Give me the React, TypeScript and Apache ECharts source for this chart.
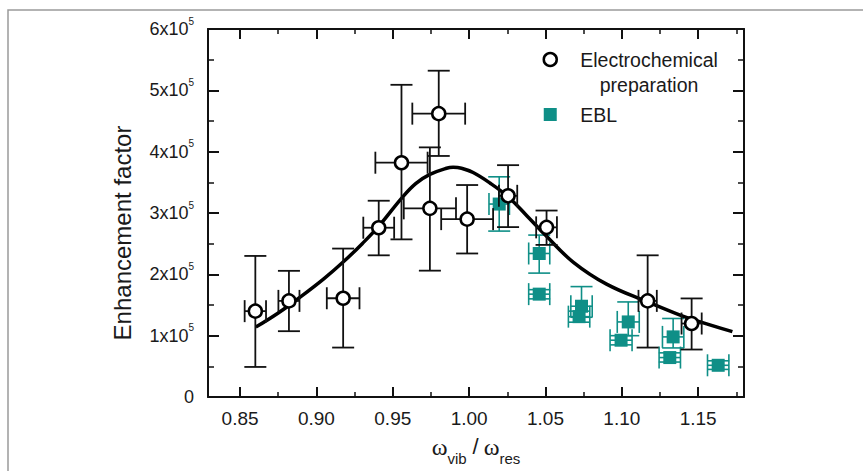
import React, { useEffect, useRef } from 'react';
import * as echarts from 'echarts';

// ---- Data ----
// Electrochemical preparation: x, y, symmetric x error, y low, y high
const circX = [0.860, 0.882, 0.9175, 0.9408, 0.9557, 0.9801, 0.9743, 0.9987, 1.0255, 1.0507, 1.1169, 1.1457];
const circY = [1.40e5, 1.567e5, 1.61e5, 2.76e5, 3.82e5, 4.62e5, 3.076e5, 2.90e5, 3.28e5, 2.766e5, 1.567e5, 1.198e5];
const circXErr = [0.007, 0.0069, 0.0107, 0.0101, 0.0171, 0.0173, 0.0171, 0.017, 0.006, 0.0068, 0.006, 0.0066];
const circYLo = [0.49e5, 1.073e5, 0.806e5, 2.31e5, 2.57e5, 3.93e5, 2.06e5, 2.34e5, 2.77e5, 2.48e5, 0.806e5, 0.774e5];
const circYHi = [2.30e5, 2.057e5, 2.42e5, 3.20e5, 5.09e5, 5.32e5, 4.07e5, 3.456e5, 3.78e5, 3.04e5, 2.31e5, 1.607e5];

// EBL
const eblX = [1.0197, 1.0459, 1.0459, 1.0736, 1.072, 1.1042, 1.0995, 1.1336, 1.1314, 1.1631];
const eblY = [3.146e5, 2.34e5, 1.677e5, 1.48e5, 1.31e5, 1.224e5, 0.926e5, 0.98e5, 0.643e5, 0.517e5];
const eblXErr = [0.0067, 0.0069, 0.0069, 0.007, 0.007, 0.0072, 0.0072, 0.007, 0.007, 0.007];
const eblYLo = [2.705e5, 2.02e5, 1.60e5, 1.30e5, 1.22e5, 1.00e5, 0.85e5, 0.80e5, 0.57e5, 0.45e5];
const eblYHi = [3.59e5, 2.64e5, 1.75e5, 1.80e5, 1.40e5, 1.55e5, 1.00e5, 1.28e5, 0.72e5, 0.59e5];

// Fit curve
const fitX = [0.8603, 0.875, 0.890, 0.905, 0.9175, 0.930, 0.941, 0.9557, 0.965, 0.9743, 0.9852, 0.9895, 0.995, 1.0026, 1.0136, 1.0255, 1.0376, 1.0507, 1.0681, 1.090, 1.1169, 1.1336, 1.1457, 1.1724];
const fitY = [1.14e5, 1.37e5, 1.64e5, 1.93e5, 2.20e5, 2.50e5, 2.79e5, 3.24e5, 3.48e5, 3.63e5, 3.73e5, 3.745e5, 3.73e5, 3.66e5, 3.49e5, 3.265e5, 2.96e5, 2.62e5, 2.20e5, 1.84e5, 1.55e5, 1.38e5, 1.27e5, 1.065e5];

const xMin = 0.829;
const xMax = 1.18;
const yMin = 0;
const yMax = 6e5;
const yStep = 1e5;

const SERIES_EC = 'Electrochemical preparation';
const SERIES_EBL = 'EBL';

const TEAL = '#0f8f87';
const INK = '#111111';
const TXT = '#1a1a1a';
const SANS = '"Liberation Sans", Arial, Helvetica, sans-serif';
const SERIF = '"Liberation Serif", "DejaVu Serif", serif';

function errorRenderer(color: string, lw: number, cap: number) {
  return (params: any, api: any) => {
    const x = api.value(0);
    const y = api.value(1);
    const xl = api.value(2);
    const xh = api.value(3);
    const yl = api.value(4);
    const yh = api.value(5);
    const pLo = api.coord([x, yl]);
    const pHi = api.coord([x, yh]);
    const pL = api.coord([xl, y]);
    const pR = api.coord([xh, y]);
    const style = { stroke: color, lineWidth: lw };
    const mk = (x1: number, y1: number, x2: number, y2: number) => ({
      type: 'line', shape: { x1, y1, x2, y2 }, style,
    });
    return {
      type: 'group',
      children: [
        mk(pLo[0], pLo[1], pHi[0], pHi[1]),
        mk(pLo[0] - cap, pLo[1], pLo[0] + cap, pLo[1]),
        mk(pHi[0] - cap, pHi[1], pHi[0] + cap, pHi[1]),
        mk(pL[0], pL[1], pR[0], pR[1]),
        mk(pL[0], pL[1] - cap, pL[0], pL[1] + cap),
        mk(pR[0], pR[1] - cap, pR[0], pR[1] + cap),
      ],
    };
  };
}

function xLabel(v: number) {
  const k = Math.round(v / 0.05);
  if (Math.abs(k * 0.05 - v) > 1e-6) return '';
  return v.toFixed(2);
}

function yLabel(v: number) {
  if (v === 0) return '{z|0}';
  return `{m|${Math.round(v / 1e5)}x10}{s|5}`;
}

export default function App() {
  const ref = useRef<HTMLDivElement>(null);
  useEffect(() => {
    if (!ref.current) return;
    const chart = echarts.init(ref.current, null, { renderer: 'svg' });

    const circData = circX.map((x, i) => [x, circY[i], x - circXErr[i], x + circXErr[i], circYLo[i], circYHi[i]]);
    const eblData = eblX.map((x, i) => [x, eblY[i], x - eblXErr[i], x + eblXErr[i], eblYLo[i], eblYHi[i]]);
    const fitData = fitX.map((x, i) => [x, fitY[i]]);

    const axisLine = { show: true, onZero: false, lineStyle: { color: INK, width: 2 } };

    const xCommon = {
      type: 'value',
      min: xMin,
      max: xMax,
      splitNumber: 7,
      minInterval: 0.05,
      maxInterval: 0.05,
      axisLine,
      splitLine: { show: false },
      axisTick: { show: true, inside: true, length: 10, lineStyle: { color: INK, width: 2 } },
      minorTick: { show: true, splitNumber: 2, length: 5, lineStyle: { color: INK, width: 1.5 } },
    };
    const yCommon = {
      type: 'value',
      min: yMin,
      max: yMax,
      interval: yStep,
      axisLine,
      splitLine: { show: false },
      axisTick: { show: true, inside: true, length: 11, lineStyle: { color: INK, width: 2 } },
      minorTick: { show: true, splitNumber: 2, length: 6, lineStyle: { color: INK, width: 1.5 } },
    };

    const option: any = {
      animation: false,
      backgroundColor: '#ffffff',
      graphic: [
        {
          type: 'rect',
          silent: true,
          z: -10,
          shape: { x: 8, y: 10, width: 900, height: 520 },
          style: { fill: 'none', stroke: '#9a9a9a', lineWidth: 1.5 },
        },
      ],
      grid: { left: 208, right: 119, top: 29, bottom: 74, containLabel: false, outerBoundsMode: 'none' },
      legend: {
        orient: 'vertical',
        left: 542.5,
        top: 49.5,
        padding: 0,
        itemGap: 10,
        itemWidth: 13,
        itemHeight: 13,
        selectedMode: false,
        data: [
          {
            name: SERIES_EC,
            icon: 'circle',
            itemStyle: { color: '#ffffff', borderColor: '#000000', borderWidth: 2.5 },
            textStyle: { padding: [25, 0, 0, 18.5] },
          },
          {
            name: SERIES_EBL,
            icon: 'rect',
            itemStyle: { color: TEAL },
            textStyle: { padding: [0, 0, 0, 18.5] },
          },
        ],
        formatter: (name: string) =>
          name === SERIES_EBL ? '{a|EBL}' : '{a|Electrochemical}\n{b|preparation}',
        textStyle: {
          fontFamily: SANS,
          fontSize: 19.5,
          color: TXT,
          rich: {
            a: { fontFamily: SANS, fontSize: 19.5, color: TXT, lineHeight: 25 },
            b: { fontFamily: SANS, fontSize: 19.5, color: TXT, lineHeight: 25, align: 'center' },
          },
        },
      },
      xAxis: [
        {
          ...xCommon,
          position: 'bottom',
          axisLabel: {
            show: true,
            margin: 11.5,
            fontFamily: SANS,
            fontSize: 19,
            color: TXT,
            showMinLabel: false,
            showMaxLabel: false,
            formatter: xLabel,
          },
          name: '{w|ω}{s|vib}{sl|/}{w|ω}{s|res}',
          nameLocation: 'middle',
          nameGap: 38,
          nameTextStyle: {
            rich: {
              w: { fontFamily: SERIF, fontSize: 24, color: TXT, verticalAlign: 'top' },
              s: { fontFamily: SANS, fontSize: 15, color: TXT, verticalAlign: 'top', padding: [16, 0, 0, 0] },
              sl: { fontFamily: SANS, fontSize: 22, color: TXT, verticalAlign: 'top', padding: [0, 5, 0, 6] },
            },
          },
        },
        {
          ...xCommon,
          position: 'top',
          axisLabel: { show: false },
        },
      ],
      yAxis: [
        {
          ...yCommon,
          position: 'left',
          axisLabel: {
            show: true,
            margin: 14,
            formatter: yLabel,
            rich: {
              z: { fontFamily: SANS, fontSize: 18, color: TXT },
              m: { fontFamily: SANS, fontSize: 18, color: TXT, lineHeight: 26 },
              s: { fontFamily: SANS, fontSize: 10, color: TXT, lineHeight: 10, verticalAlign: 'top' },
            },
          },
          name: 'Enhancement factor',
          nameLocation: 'middle',
          nameGap: 74,
          nameTextStyle: { fontFamily: SANS, fontSize: 24, color: TXT, padding: [0, 40, 0, 0] },
        },
        {
          ...yCommon,
          position: 'right',
          axisLabel: { show: false },
        },
      ],
      series: [
        {
          type: 'custom',
          name: 'EBL error',
          xAxisIndex: 0,
          yAxisIndex: 0,
          renderItem: errorRenderer(TEAL, 1.6, 11),
          encode: { x: 0, y: 1 },
          data: eblData,
          z: 2,
        },
        {
          type: 'scatter',
          name: SERIES_EBL,
          xAxisIndex: 0,
          yAxisIndex: 0,
          symbol: 'rect',
          symbolSize: 13,
          itemStyle: { color: TEAL, opacity: 1 },
          data: eblData.map((d) => [d[0], d[1]]),
          z: 3,
        },
        {
          type: 'line',
          name: 'fit',
          xAxisIndex: 0,
          yAxisIndex: 0,
          data: fitData,
          smooth: 0.4,
          showSymbol: false,
          symbol: 'none',
          lineStyle: { color: '#000000', width: 3.5 },
          z: 4,
        },
        {
          type: 'custom',
          name: 'EC error',
          xAxisIndex: 0,
          yAxisIndex: 0,
          renderItem: errorRenderer(INK, 1.8, 11),
          encode: { x: 0, y: 1 },
          data: circData,
          z: 5,
        },
        {
          type: 'scatter',
          name: SERIES_EC,
          xAxisIndex: 0,
          yAxisIndex: 0,
          symbol: 'circle',
          symbolSize: 13,
          itemStyle: { color: '#ffffff', borderColor: '#000000', borderWidth: 2.5, opacity: 1 },
          data: circData.map((d) => [d[0], d[1]]),
          z: 6,
        },
      ],
    };

    chart.setOption(option);
    return () => chart.dispose();
  }, []);

  return (
    <div
      ref={ref}
      style={{ position: 'fixed', left: 0, top: 0, width: 863, height: 471, background: '#ffffff' }}
    />
  );
}
